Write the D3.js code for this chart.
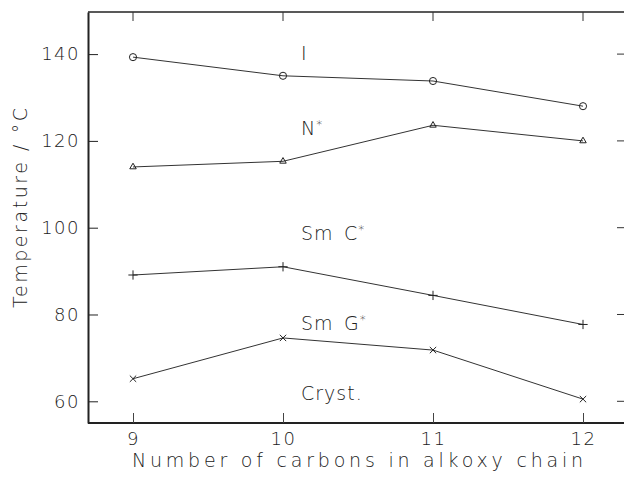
<!DOCTYPE html>
<html>
<head>
<meta charset="utf-8">
<script src="https://cdn.jsdelivr.net/npm/d3@7"></script>
<style>
  body { margin: 0; background: #fff; }
  svg text { font-family: "DejaVu Sans", "Open Sans", sans-serif; font-weight: 200; fill: #222; }
</style>
</head>
<body>
<svg id="chart" width="624" height="478"></svg>
<script>
// carbons in the alkoxy chain
var carbons = [9, 10, 11, 12];
// transition temperatures (deg C)
var isoTemps = [139.3, 135.0, 133.8, 128.0];
var chiralNTemps = [114.0, 115.3, 123.6, 120.0];
var smCTemps = [89.1, 91.0, 84.4, 77.7];
var crystTemps = [65.2, 74.6, 71.8, 60.5];

var yTicks = [60, 80, 100, 120, 140];
var phaseLabels = ['I', 'N*', 'Sm C*', 'Sm G*', 'Cryst.'];
var phaseLabelTemps = [138.6, 121.3, 97.1, 76.4, 60.4];

var svg = d3.select('#chart');
var x = d3.scaleLinear().domain([8.7, 12.3]).range([88, 628]);
var y = d3.scaleLinear().domain([55, 149.7]).range([423, 12]);

var symbolPlus = d3.symbolPlus || d3.symbolCross;
var symbolTimes = d3.symbolTimes || d3.symbolCross;
var symbolTri = d3.symbolTriangle2 || d3.symbolTriangle;

var series = [
  { values: isoTemps, symbol: d3.symbolCircle, size: 40 },
  { values: chiralNTemps, symbol: symbolTri, size: 30 },
  { values: smCTemps, symbol: symbolPlus, size: 30 },
  { values: crystTemps, symbol: symbolTimes, size: 28 }
];

// frame
svg.append('line').attr('x1', x(8.7)).attr('x2', 624).attr('y1', y(149.7)).attr('y2', y(149.7))
  .attr('stroke', '#222').attr('stroke-width', 1.5);
svg.append('line').attr('x1', x(8.7)).attr('x2', 624).attr('y1', y(55)).attr('y2', y(55))
  .attr('stroke', '#222').attr('stroke-width', 2);

var yAxis = svg.append('g')
  .attr('transform', 'translate(' + x(8.7) + ',0)')
  .call(d3.axisLeft(y).tickValues(yTicks).tickSize(-10).tickPadding(8).tickSizeOuter(0));
yAxis.select('.domain').attr('stroke', '#222').attr('stroke-width', 2);
yAxis.selectAll('.tick line').attr('stroke', '#222');
yAxis.selectAll('text').style('font-size', '18px').style('letter-spacing', '1.5px').attr('fill', '#222');

var xAxis = svg.append('g')
  .attr('transform', 'translate(0,' + y(55) + ')')
  .call(d3.axisBottom(x).tickValues(carbons).tickFormat(d3.format('d')).tickSize(-10).tickPadding(9).tickSizeOuter(0));
xAxis.select('.domain').remove();
xAxis.selectAll('.tick line').attr('stroke', '#444');
xAxis.selectAll('text').style('font-size', '18px').style('letter-spacing', '1.5px').attr('fill', '#222');

// top and right inner ticks
svg.selectAll('.top-tick').data(carbons).enter().append('line')
  .attr('x1', function(d) { return x(d); }).attr('x2', function(d) { return x(d); })
  .attr('y1', y(149.7)).attr('y2', y(149.7) + 9)
  .attr('stroke', '#333');
svg.selectAll('.right-tick').data(yTicks).enter().append('line')
  .attr('x1', 617).attr('x2', 624)
  .attr('y1', function(d) { return y(d); }).attr('y2', function(d) { return y(d); })
  .attr('stroke', '#333');

// series lines and markers
var line = d3.line()
  .x(function(d, i) { return x(carbons[i]); })
  .y(function(d) { return y(d); });

series.forEach(function(s) {
  svg.append('path')
    .datum(s.values)
    .attr('d', line)
    .attr('fill', 'none')
    .attr('stroke', '#333')
    .attr('stroke-width', 1);

  svg.selectAll(null).data(s.values).enter().append('path')
    .attr('transform', function(d, i) { return 'translate(' + x(carbons[i]) + ',' + y(d) + ')'; })
    .attr('d', d3.symbol().type(s.symbol).size(s.size))
    .attr('fill', 'none')
    .attr('stroke', '#222')
    .attr('stroke-width', 1);
});

// phase labels
svg.selectAll('.phase').data(phaseLabels).enter().append('text')
  .attr('x', 301)
  .attr('y', function(d, i) { return y(phaseLabelTemps[i]); })
  .style('font-size', '19px')
  .style('letter-spacing', '1px')
  .each(function(d) {
    var t = d3.select(this);
    if (d.indexOf('*') >= 0) {
      t.append('tspan').text(d.replace('*', '').replace(' ', '\u2002'));
      t.append('tspan').attr('dy', '-0.5em').style('font-size', '12px').text('*');
    } else {
      t.text(d);
    }
  });

// axis titles
svg.append('text')
  .attr('x', 132).attr('y', 467)
  .attr('textLength', 451)
  .attr('lengthAdjust', 'spacing')
  .style('font-size', '19px')
  .text('Number  of  carbons  in  alkoxy  chain');

svg.append('text')
  .attr('transform', 'translate(27,308) rotate(-90)')
  .attr('textLength', 200)
  .attr('lengthAdjust', 'spacing')
  .style('font-size', '19px')
  .text('Temperature  /  \u00B0C');
</script>
</body>
</html>
